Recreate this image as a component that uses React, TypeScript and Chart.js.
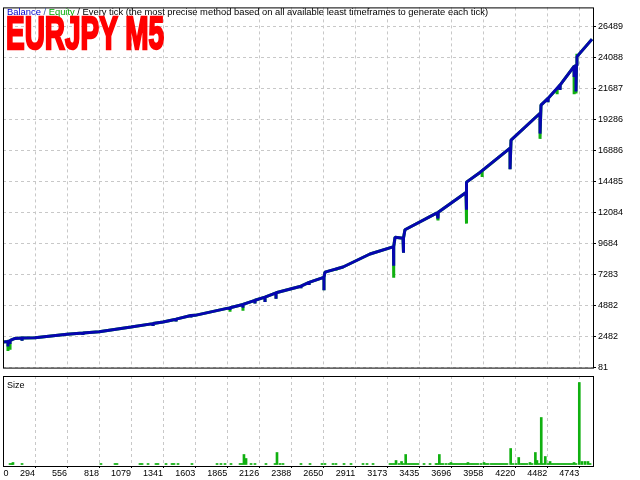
import React, { useEffect, useRef } from 'react';
import { Chart, registerables } from 'chart.js';

Chart.register(...registerables);

// ---------- data ----------
const xTickValues = [77, 294, 556, 818, 1079, 1341, 1603, 1865, 2126, 2388, 2650, 2911, 3173, 3435, 3696, 3958, 4220, 4482, 4743];
const xTickLabels = ['0', '294', '556', '818', '1079', '1341', '1603', '1865', '2126', '2388', '2650', '2911', '3173', '3435', '3696', '3958', '4220', '4482', '4743'];
const yTickValues = [81, 2482, 4882, 7283, 9684, 12084, 14485, 16886, 19286, 21687, 24088, 26489];

const X_MIN = 32.4;
const X_MAX = 4855;
const Y_MIN = 81;
const Y_MAX = 27950;

// balance curve: [trade #, balance]
const balancePoints: [number, number][] = [
  [41, 2060],
  [73, 2110], [73, 1704], [73, 2120],
  [90, 2150], [90, 1906], [90, 2170],
  [106, 2244], [131, 2335],
  [188, 2370], [188, 2154], [188, 2375],
  [294, 2395], [556, 2658],
  [686, 2755], [686, 2605], [686, 2760],
  [818, 2860], [1079, 3221],
  [1259, 3484], [1259, 3296], [1259, 3490],
  [1340, 3612],
  [1447, 3822], [1447, 3657], [1447, 3830],
  [1569, 4108], [1569, 3957], [1569, 4112],
  [1602, 4123], [1863, 4663],
  [1888, 4700], [1888, 4536], [1888, 4710],
  [1994, 4964], [1994, 4709], [1994, 4970],
  [2092, 5287], [2092, 5039], [2092, 5290],
  [2174, 5535], [2174, 5159], [2174, 5540],
  [2264, 5865], [2264, 5414], [2264, 5870],
  [2460, 6361],
  [2468, 6380], [2468, 6211], [2468, 6390],
  [2534, 6677], [2534, 6466], [2534, 6680],
  [2648, 7037],
  [2656, 7050], [2656, 6061], [2656, 7060],
  [2664, 7465], [2812, 7864], [3032, 8870], [3220, 9418],
  [3224, 9430], [3224, 7969], [3228, 9440],
  [3237, 10170],
  [3302, 10095], [3302, 8968], [3310, 10100],
  [3318, 10748], [3580, 12048],
  [3588, 12090], [3588, 11620], [3590, 12100],
  [3817, 13625], [3817, 12296], [3825, 14429],
  [3931, 15180], [4177, 17058], [4177, 15428], [4185, 17682],
  [4422, 19762], [4422, 18185], [4430, 20386],
  [4487, 20912], [4487, 20612], [4489, 20920],
  [4585, 21941], [4585, 21566], [4587, 21950],
  [4700, 23380], [4700, 22565], [4702, 23390],
  [4716, 23443], [4716, 21437], [4720, 23450],
  [4724, 24142], [4847, 25494],
];

// equity curve: [trade #, equity]
const equityPoints: [number, number][] = [
  [41, 2060],
  [73, 2110], [73, 1358], [73, 2120],
  [90, 2150], [90, 1456], [90, 2170],
  [106, 2244], [131, 2335],
  [188, 2370], [188, 2154], [188, 2375],
  [294, 2395], [556, 2658],
  [686, 2755], [686, 2605], [686, 2760],
  [818, 2860], [1079, 3221],
  [1259, 3484], [1259, 3296], [1259, 3490],
  [1340, 3612],
  [1447, 3822], [1447, 3657], [1447, 3830],
  [1569, 4108], [1569, 3957], [1569, 4112],
  [1602, 4123], [1863, 4663],
  [1888, 4700], [1888, 4408], [1888, 4710],
  [1994, 4964], [1994, 4483], [1994, 4970],
  [2092, 5287], [2092, 5039], [2092, 5290],
  [2174, 5535], [2174, 5159], [2174, 5540],
  [2264, 5865], [2264, 5414], [2264, 5870],
  [2460, 6361],
  [2468, 6380], [2468, 6211], [2468, 6390],
  [2534, 6677], [2534, 6466], [2534, 6680],
  [2648, 7037],
  [2656, 7050], [2656, 6061], [2656, 7060],
  [2664, 7465],
  [2754, 7700], [2754, 7593], [2756, 7705],
  [2812, 7864], [3032, 8870], [3220, 9418],
  [3224, 9430], [3224, 7037], [3228, 9440],
  [3237, 10170],
  [3302, 10095], [3302, 8968], [3310, 10100],
  [3318, 10748], [3580, 12048],
  [3588, 12090], [3588, 11469], [3590, 12100],
  [3817, 13625], [3817, 11222], [3825, 14429],
  [3931, 15180],
  [3948, 15300], [3948, 14827], [3950, 15310],
  [4177, 17058], [4177, 15428], [4185, 17682],
  [4422, 19762], [4422, 17779], [4430, 20386],
  [4487, 20912], [4487, 20612], [4489, 20920],
  [4561, 21650], [4561, 21235], [4563, 21660],
  [4585, 21941], [4585, 21566], [4587, 21950],
  [4700, 23380], [4700, 21235], [4702, 23390],
  [4716, 23443], [4716, 21300], [4720, 23450],
  [4723, 24370], [4724, 24142], [4847, 25494],
];

// size panel: trade # and lot size
const sizeTrades = [
  90, 106, 114, 188, 833, 948, 964, 1152, 1169, 1218, 1283, 1299, 1365, 1414, 1430, 1463, 1577,
  1782, 1814, 1847, 1896, 1970, 1986, 2002, 2019, 2060, 2092, 2182, 2256, 2272, 2297, 2321,
  2468, 2542, 2640, 2664, 2730, 2754, 2820, 2877, 2975, 3008, 3057,
  3196, 3212, 3229, 3245, 3269, 3290, 3306, 3324, 3343, 3359, 3376, 3392, 3408, 3425,
  3474, 3523, 3572, 3584, 3599, 3613, 3629, 3654, 3678, 3694, 3711, 3727, 3743, 3760, 3776,
  3792, 3809, 3825, 3833, 3850, 3866, 3882, 3899, 3915, 3940, 3964, 3980, 3997, 4021, 4038,
  4054, 4070, 4087, 4103, 4119, 4136, 4152, 4182, 4201, 4226, 4248, 4267, 4283, 4299, 4316,
  4340, 4357, 4384, 4397, 4414, 4432, 4446, 4465, 4487, 4504, 4520, 4536, 4553, 4569, 4585,
  4602, 4618, 4634, 4651, 4667, 4683, 4700, 4716, 4743, 4765, 4790, 4814, 4831,
];
const sizeLots = [
  0.01, 0.01, 0.02, 0.01, 0.01, 0.01, 0.01, 0.01, 0.01, 0.01, 0.01, 0.01, 0.01, 0.01, 0.01, 0.01, 0.01,
  0.01, 0.01, 0.01, 0.01, 0.01, 0.01, 0.10, 0.06, 0.01, 0.01, 0.01, 0.01, 0.12, 0.01, 0.01,
  0.01, 0.01, 0.01, 0.01, 0.01, 0.01, 0.01, 0.01, 0.01, 0.01, 0.01,
  0.01, 0.01, 0.01, 0.04, 0.01, 0.03, 0.01, 0.10, 0.01, 0.01, 0.01, 0.01, 0.01, 0.01,
  0.01, 0.01, 0.01, 0.01, 0.10, 0.01, 0.01, 0.01, 0.01, 0.02, 0.01, 0.01, 0.01, 0.01, 0.01,
  0.01, 0.01, 0.01, 0.02, 0.01, 0.01, 0.01, 0.01, 0.01, 0.01, 0.02, 0.01, 0.01, 0.01, 0.01,
  0.01, 0.01, 0.01, 0.01, 0.01, 0.01, 0.01, 0.16, 0.01, 0.01, 0.07, 0.01, 0.01, 0.01, 0.01,
  0.02, 0.01, 0.12, 0.04, 0.01, 0.47, 0.01, 0.08, 0.01, 0.03, 0.01, 0.01, 0.01, 0.01, 0.01,
  0.01, 0.01, 0.01, 0.01, 0.01, 0.01, 0.02, 0.01, 0.82, 0.03, 0.03, 0.03, 0.01,
];

const SIZE_MIN = -0.015;
const SIZE_MAX = 0.885;

// ---------- styles ----------
const BLUE = '#0606b0';
const GREEN = '#10b010';
const GRID = '#c8c8c8';
const FONT = 'Liberation Sans';

const framePlugin = {
  id: 'frame',
  afterDraw(chart: any) {
    const { ctx, chartArea: a } = chart;
    ctx.save();
    ctx.strokeStyle = '#000';
    ctx.lineWidth = 1;
    ctx.strokeRect(a.left + 0.5, a.top + 0.5, a.right - a.left, a.bottom - a.top);
    ctx.restore();
  },
};

const xGridColor = (c: any) => (c.index === 0 ? 'rgba(0,0,0,0)' : GRID);
const xTickColor = (c: any) => (c.index === 0 ? 'rgba(0,0,0,0)' : '#000');

export default function App() {
  const mainRef = useRef<HTMLCanvasElement>(null);
  const sizeRef = useRef<HTMLCanvasElement>(null);
  const titleRef = useRef<HTMLDivElement>(null);
  const headRef = useRef<HTMLDivElement>(null);

  useEffect(() => {
    const fit = (el: HTMLElement | null, target: number) => {
      if (!el) return;
      el.style.transform = 'none';
      const w = el.getBoundingClientRect().width;
      if (w > 0) el.style.transform = `scaleX(${target / w})`;
    };
    fit(titleRef.current, 158);
    fit(headRef.current, 481);

    const main = new Chart(mainRef.current as HTMLCanvasElement, {
      type: 'line',
      data: {
        datasets: [
          {
            label: 'Balance',
            data: balancePoints.map(([x, y]) => ({ x, y })),
            borderColor: BLUE,
            borderWidth: 3,
            pointRadius: 0,
            tension: 0,
            borderJoinStyle: 'bevel',
            borderCapStyle: 'butt',
          },
          {
            label: 'Equity',
            data: equityPoints.map(([x, y]) => ({ x, y })),
            borderColor: GREEN,
            borderWidth: 3,
            pointRadius: 0,
            tension: 0,
            borderJoinStyle: 'bevel',
            borderCapStyle: 'butt',
          },
        ],
      },
      options: {
        animation: false,
        responsive: false,
        devicePixelRatio: 1,
        layout: { padding: { top: 3, left: 3, right: 0, bottom: 1 } },
        plugins: { legend: { display: false }, tooltip: { enabled: false } },
        scales: {
          x: {
            type: 'linear',
            min: X_MIN,
            max: X_MAX,
            afterBuildTicks: (s: any) => {
              s.ticks = xTickValues.map((v) => ({ value: v }));
            },
            afterFit: (s: any) => {
              s.height = 0;
            },
            ticks: { display: false },
            grid: { color: xGridColor, drawTicks: false, lineWidth: 1 },
            border: { display: false, dash: [3, 3] },
          },
          y: {
            type: 'linear',
            position: 'right',
            min: Y_MIN,
            max: Y_MAX,
            afterBuildTicks: (s: any) => {
              s.ticks = yTickValues.map((v) => ({ value: v }));
            },
            afterFit: (s: any) => {
              s.width = 47;
            },
            ticks: {
              color: '#000',
              padding: 2,
              font: { family: FONT, size: 9 },
              callback: (v: any) => String(v),
            },
            grid: { color: GRID, tickColor: '#000', tickLength: 3, lineWidth: 1 },
            border: { display: false, dash: [3, 3] },
          },
        },
      },
      plugins: [framePlugin],
    } as any);

    const size = new Chart(sizeRef.current as HTMLCanvasElement, {
      type: 'bar',
      data: {
        datasets: [
          {
            label: 'Size',
            data: sizeTrades.map((x, i) => ({ x, y: sizeLots[i] })),
            backgroundColor: GREEN,
            borderWidth: 0,
            barThickness: 2,
          },
        ],
      },
      options: {
        animation: false,
        responsive: false,
        devicePixelRatio: 1,
        layout: { padding: { top: 1, left: 3, right: 47, bottom: 0 } },
        plugins: { legend: { display: false }, tooltip: { enabled: false } },
        scales: {
          x: {
            type: 'linear',
            min: X_MIN,
            max: X_MAX,
            offset: false,
            afterBuildTicks: (s: any) => {
              s.ticks = xTickValues.map((v) => ({ value: v }));
            },
            afterFit: (s: any) => {
              s.height = 14;
            },
            ticks: {
              autoSkip: false,
              maxRotation: 0,
              minRotation: 0,
              align: 'end',
              padding: 0,
              color: '#000',
              font: { family: FONT, size: 9 },
              callback: (_v: any, i: number) => xTickLabels[i],
            },
            grid: { color: xGridColor, tickColor: xTickColor, tickLength: 2, offset: false, lineWidth: 1 },
            border: { display: false, dash: [3, 3] },
          },
          y: { display: false, min: SIZE_MIN, max: SIZE_MAX },
        },
      },
      plugins: [framePlugin],
    } as any);

    return () => {
      main.destroy();
      size.destroy();
    };
  }, []);

  const textStyle: React.CSSProperties = {
    position: 'absolute',
    font: `9px "${FONT}"`,
    lineHeight: '11px',
    whiteSpace: 'nowrap',
    color: '#000',
    transformOrigin: '0 0',
  };

  return (
    <div style={{ position: 'fixed', left: 0, top: 0, width: 640, height: 480, background: '#fff', overflow: 'hidden' }}>
      <canvas ref={mainRef} width={640} height={375} style={{ position: 'absolute', left: 0, top: 0, width: 640, height: 375 }} />
      <canvas ref={sizeRef} width={640} height={105} style={{ position: 'absolute', left: 0, top: 375, width: 640, height: 105 }} />
      <div ref={headRef} style={{ ...textStyle, left: 7, top: 7 }}>
        <span style={{ color: '#0000c8' }}>Balance</span>
        <span style={{ color: '#3050a0' }}> / </span>
        <span style={{ color: '#00a800' }}>Equity</span>
        {' / Every tick (the most precise method based on all available least timeframes to generate each tick)'}
      </div>
      <div
        ref={titleRef}
        style={{
          position: 'absolute',
          left: 6,
          top: 9,
          font: 'bold 47px "Liberation Sans"',
          lineHeight: '47px',
          color: '#ff0000',
          whiteSpace: 'nowrap',
          transformOrigin: '0 0',
          WebkitTextStroke: '2.5px #ff0000',
        }}
      >
        EURJPY M5
      </div>
      <div style={{ ...textStyle, left: 7, top: 379.5 }}>Size</div>
    </div>
  );
}
